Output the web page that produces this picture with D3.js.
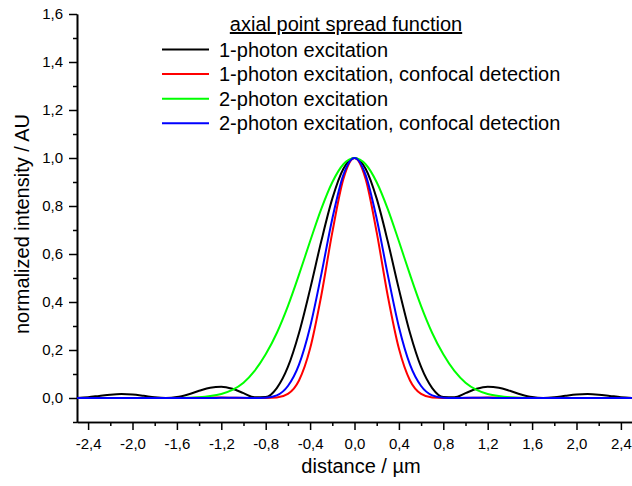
<!DOCTYPE html>
<html>
<head>
<meta charset="utf-8">
<script src="https://cdn.jsdelivr.net/npm/d3@7"></script>
<style>
  body { margin: 0; background: #fff; }
  text { font-family: "Liberation Sans", Arial, sans-serif; fill: #000; }
</style>
</head>
<body>
<div id="container"></div>
<script>
// distance in µm, every 0.1
let distance = [-2.5,-2.4,-2.3,-2.2,-2.1,-2.0,-1.9,-1.8,-1.7,-1.6,-1.5,-1.4,-1.3,-1.2,-1.1,-1.0,-0.9,-0.8,-0.7,-0.6,-0.5,-0.4,-0.3,-0.2,-0.1,
  0,0.1,0.2,0.3,0.4,0.5,0.6,0.7,0.8,0.9,1.0,1.1,1.2,1.3,1.4,1.5,1.6,1.7,1.8,1.9,2.0,2.1,2.2,2.3,2.4,2.5];

let onePhoton = [0.0004,0.0035,0.0088,0.014,0.0165,0.0147,0.0092,0.0029,0,0.0037,0.0148,0.0299,0.0429,0.047,0.0384,0.0203,0.003,0.0039,0.0414,0.1293,0.2709,0.4537,0.652,0.8306,0.9555,
  1,0.9555,0.8306,0.652,0.4537,0.2709,0.1293,0.0414,0.0039,0.003,0.0203,0.0384,0.047,0.0429,0.0299,0.0148,0.0037,0,0.0029,0.0092,0.0147,0.0165,0.014,0.0088,0.0035,0.0004];

let onePhotonConfocal = [0,0,0,0,0,0,0,0,0,0,0,0.001,0.002,0.002,0.001,0,0,0,0.002,0.017,0.073,0.206,0.425,0.69,0.913,
  1,0.913,0.69,0.425,0.206,0.073,0.017,0.002,0,0,0,0.001,0.002,0.002,0.001,0,0,0,0,0,0,0,0,0,0,0];

let twoPhoton = [0,0,0,0,0,0,0,0,0,0,0.001,0.003,0.008,0.017,0.034,0.064,0.113,0.182,0.271,0.383,0.514,0.653,0.787,0.899,0.974,
  1,0.974,0.899,0.787,0.653,0.514,0.383,0.271,0.182,0.113,0.064,0.034,0.017,0.008,0.003,0.001,0,0,0,0,0,0,0,0,0,0];

let twoPhotonConfocal = [0,0,0,0,0,0,0,0,0,0,0,0,0,0.001,0.001,0.001,0,0.001,0.011,0.05,0.139,0.296,0.513,0.747,0.93,
  1,0.93,0.747,0.513,0.296,0.139,0.05,0.011,0.001,0,0.001,0.001,0.001,0,0,0,0,0,0,0,0,0,0,0,0,0];

let seriesNames = ["1-photon excitation", "1-photon excitation, confocal detection",
  "2-photon excitation", "2-photon excitation, confocal detection"];
let seriesValues = [onePhoton, onePhotonConfocal, twoPhoton, twoPhotonConfocal];
let seriesColors = ["#000000", "#ff0000", "#00ff00", "#0000ff"];

let xMajor = [-2.4,-2.0,-1.6,-1.2,-0.8,-0.4,0,0.4,0.8,1.2,1.6,2.0,2.4];
let xMinor = [-2.2,-1.8,-1.4,-1.0,-0.6,-0.2,0.2,0.6,1.0,1.4,1.8,2.2];
let yMajor = [0,0.2,0.4,0.6,0.8,1.0,1.2,1.4,1.6];
let yMinor = [-0.1,0.1,0.3,0.5,0.7,0.9,1.1,1.3,1.5];

let w = 632;
let h = 486;

let viz = d3.select("#container")
  .append("svg")
    .attr("width", w)
    .attr("height", h)
;

let xScale = d3.scaleLinear().domain([-2.5, 2.5]).range([77, 632]);
let yScale = d3.scaleLinear().domain([-0.1, 1.6]).range([422, 14]);

// comma as decimal sign, plain hyphen as minus
let locale = d3.formatLocale({decimal: ",", thousands: ".", grouping: [3], currency: ["", ""], minus: "-"});
let fmt = locale.format(".1f");

// minor ticks first, then major ticks with labels
viz.append("g")
    .attr("transform", "translate(0,422)")
    .call(d3.axisBottom(xScale).tickValues(xMinor).tickFormat("").tickSize(4).tickSizeOuter(0))
;
let xAxisGroup = viz.append("g")
    .attr("class", "xaxisgroup")
    .attr("transform", "translate(0,422)")
    .call(d3.axisBottom(xScale).tickValues(xMajor).tickFormat(fmt).tickSize(8).tickSizeOuter(0).tickPadding(8))
;

viz.append("g")
    .attr("transform", "translate(77,0)")
    .call(d3.axisLeft(yScale).tickValues(yMinor).tickFormat("").tickSize(4).tickSizeOuter(0))
;
let yAxisGroup = viz.append("g")
    .attr("class", "yaxisgroup")
    .attr("transform", "translate(77,0)")
    .call(d3.axisLeft(yScale).tickValues(yMajor).tickFormat(fmt).tickSize(8).tickSizeOuter(0).tickPadding(6))
;

viz.selectAll(".domain").attr("stroke", "#000").attr("stroke-width", 1.6);
viz.selectAll(".tick line").attr("stroke", "#000").attr("stroke-width", 1.5);
viz.selectAll(".tick text").style("font-size", "15px").attr("fill", "#000");

// curves
let lineMaker = d3.line()
    .x(function(d){ return xScale(d[0]); })
    .y(function(d){ return yScale(d[1]); })
    .curve(d3.curveMonotoneX)
;

seriesValues.forEach(function(vals, i){
  let pts = distance.map(function(x, j){ return [x, vals[j]]; });
  viz.append("path")
      .datum(pts)
      .attr("d", lineMaker)
      .attr("fill", "none")
      .attr("stroke", seriesColors[i])
      .attr("stroke-width", 2)
  ;
});

// legend
viz.append("text")
    .attr("x", 346)
    .attr("y", 31)
    .attr("text-anchor", "middle")
    .style("font-size", "20px")
    .style("text-decoration", "underline")
    .text("axial point spread function")
;

seriesNames.forEach(function(name, i){
  let y = 49.5 + i * 24.6;
  viz.append("line")
      .attr("x1", 162).attr("x2", 209)
      .attr("y1", y).attr("y2", y)
      .attr("stroke", seriesColors[i])
      .attr("stroke-width", 2)
  ;
  viz.append("text")
      .attr("x", 219)
      .attr("y", y + 7)
      .style("font-size", "20px")
      .text(name)
  ;
});

// axis titles
viz.append("text")
    .attr("x", 361)
    .attr("y", 473)
    .attr("text-anchor", "middle")
    .style("font-size", "20px")
    .text("distance / µm")
;

viz.append("text")
    .attr("transform", "translate(29,224) rotate(-90)")
    .attr("text-anchor", "middle")
    .style("font-size", "20px")
    .text("normalized intensity / AU")
;
</script>
</body>
</html>
